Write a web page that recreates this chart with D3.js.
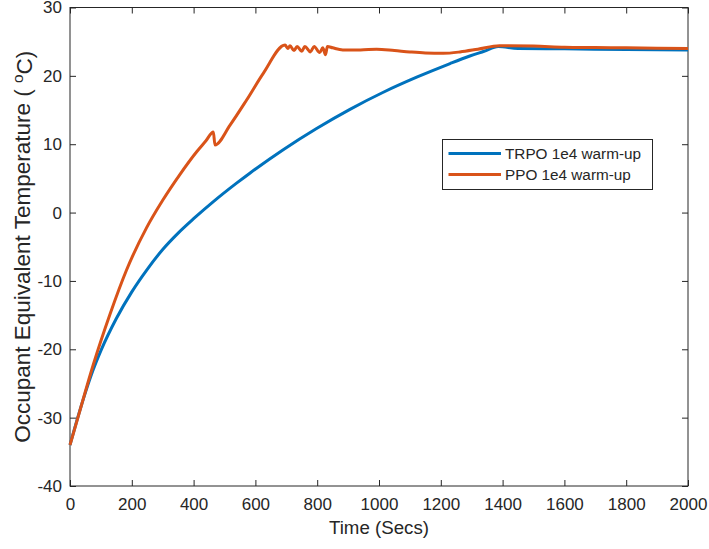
<!DOCTYPE html>
<html>
  <head>
    <meta charset="utf-8"/>
    <title>Warm-up comparison</title>
    <style>
      body { margin: 0; background: #fff; }
      text { font-family: "Liberation Sans", Arial, Helvetica, sans-serif; fill: #262626; }
      .axisline { stroke: #262626; stroke-width: 1; fill: none; }
      .series { fill: none; stroke-width: 3; stroke-linejoin: round; }
    </style>
    <script src="https://d3js.org/d3.v7.min.js"></script>
  </head>
  <body>
    <svg id="chart" width="709" height="549"></svg>
    <script>
      // data: [time, temperature]
      var trpoTime = [0, 25, 50, 75, 100, 150, 200, 250, 300, 350, 400, 464, 539, 583, 690, 798, 906, 1014, 1122, 1230, 1294, 1340, 1386, 1450, 1600, 1800, 2000];
      var trpoTemp = [-34, -30, -26.3, -23, -20.2, -15.5, -11.6, -8.3, -5.4, -3.0, -0.9, 1.6, 4.3, 5.8, 9.2, 12.3, 15.1, 17.6, 19.8, 21.8, 22.9, 23.6, 24.3, 24.0, 23.95, 23.85, 23.8];

      var ppoTime = [0, 30, 75, 130, 183, 248, 300, 356, 410, 440, 464, 469, 518, 572, 626, 696,
                     705, 712, 725, 735, 750, 760, 778, 790, 808, 818, 827, 833,
                     850, 883, 940, 992, 1050, 1100, 1150, 1208, 1262, 1320, 1390, 1500, 1600, 1700, 1800, 1900, 2000];
      var ppoTemp = [-34, -29.3, -22.3, -14.8, -8.4, -2.2, 1.8, 5.6, 8.9, 10.5, 11.8, 9.9, 12.8, 16.5, 20.4, 24.5,
                     24.0, 24.4, 23.7, 24.3, 23.6, 24.3, 23.5, 24.3, 23.4, 24.1, 23.1, 24.3,
                     24.1, 23.8, 23.8, 23.9, 23.7, 23.5, 23.35, 23.3, 23.5, 23.9, 24.4, 24.35, 24.2, 24.15, 24.1, 24.05, 24.0];

      var xTicks = [0, 200, 400, 600, 800, 1000, 1200, 1400, 1600, 1800, 2000];
      var yTicks = [-40, -30, -20, -10, 0, 10, 20, 30];
      var seriesNames = ["TRPO 1e4 warm-up", "PPO 1e4 warm-up"];
      var colors = ["#0072BD", "#D95319"];

      var svg = d3.select("#chart");
      var plotLeft = 70, plotRight = 688, plotTop = 7.5, plotBottom = 486;

      var x = d3.scaleLinear().domain([0, 2000]).range([plotLeft, plotRight]);
      var y = d3.scaleLinear().domain([-40, 30]).range([plotBottom, plotTop]);
      var tickLen = 6;
      var plainNum = function(d) { return String(d); };   // hyphen minus like matlab

      // box
      svg.append("rect").attr("class", "axisline")
        .attr("x", plotLeft).attr("y", plotTop)
        .attr("width", plotRight - plotLeft).attr("height", plotBottom - plotTop);

      // inward ticks on all four sides, labels on left and bottom
      var bottomAxis = d3.axisBottom(x).tickValues(xTicks).tickSize(-tickLen).tickPadding(12).tickFormat(plainNum);
      var topAxis = d3.axisTop(x).tickValues(xTicks).tickSize(-tickLen).tickFormat("");
      var leftAxis = d3.axisLeft(y).tickValues(yTicks).tickSize(-tickLen).tickPadding(8).tickFormat(plainNum);
      var rightAxis = d3.axisRight(y).tickValues(yTicks).tickSize(-tickLen).tickFormat("");

      function styleAxis(g) {
        g.select(".domain").remove();
        g.selectAll(".tick line").attr("stroke", "#262626");
        g.selectAll(".tick text").attr("fill", "#262626")
          .style("font-family", "'Liberation Sans', Arial, sans-serif")
          .style("font-size", "17px");
      }

      svg.append("g").attr("transform", "translate(0," + plotBottom + ")").call(bottomAxis).call(styleAxis)
        .selectAll(".tick text").attr("dy", "0.71em");
      svg.append("g").attr("transform", "translate(0," + plotTop + ")").call(topAxis).call(styleAxis);
      svg.append("g").attr("transform", "translate(" + plotLeft + ",0)").call(leftAxis).call(styleAxis);
      svg.append("g").attr("transform", "translate(" + plotRight + ",0)").call(rightAxis).call(styleAxis);

      // lines
      var line = d3.line()
        .x(function(d) { return x(d[0]); })
        .y(function(d) { return y(d[1]); })
        .curve(d3.curveMonotoneX);

      var trpo = d3.zip(trpoTime, trpoTemp);
      var ppo = d3.zip(ppoTime, ppoTemp);

      svg.append("path").attr("class", "series").attr("d", line(trpo)).attr("stroke", colors[0]);
      svg.append("path").attr("class", "series").attr("d", line(ppo)).attr("stroke", colors[1]);

      // labels
      svg.append("text")
        .attr("x", (plotLeft + plotRight) / 2).attr("y", 534)
        .attr("text-anchor", "middle")
        .style("font-size", "18.7px")
        .text("Time (Secs)");

      var yl = svg.append("text")
        .attr("transform", "translate(29.5," + ((plotTop + plotBottom) / 2) + ") rotate(-90)")
        .attr("text-anchor", "middle")
        .style("font-size", "22.5px");
      yl.append("tspan").text("Occupant Equivalent Temperature ( ");
      yl.append("tspan").attr("dy", "-0.4em").style("font-size", "15.5px").text("o");
      yl.append("tspan").attr("dy", "0.4em").text("C)");

      // legend
      var lg = svg.append("g").attr("transform", "translate(442.5,139.5)");
      lg.append("rect").attr("width", 210).attr("height", 50)
        .attr("fill", "#fff").attr("stroke", "#262626").attr("stroke-width", 1);
      seriesNames.forEach(function(name, i) {
        var cy = 14 + i * 21;
        lg.append("line").attr("x1", 6).attr("x2", 58.5).attr("y1", cy).attr("y2", cy)
          .attr("stroke", colors[i]).attr("stroke-width", 3);
        lg.append("text").attr("x", 62.5).attr("y", cy).attr("dy", "0.35em")
          .style("font-size", "15.3px").text(name);
      });
    </script>
  </body>
</html>
